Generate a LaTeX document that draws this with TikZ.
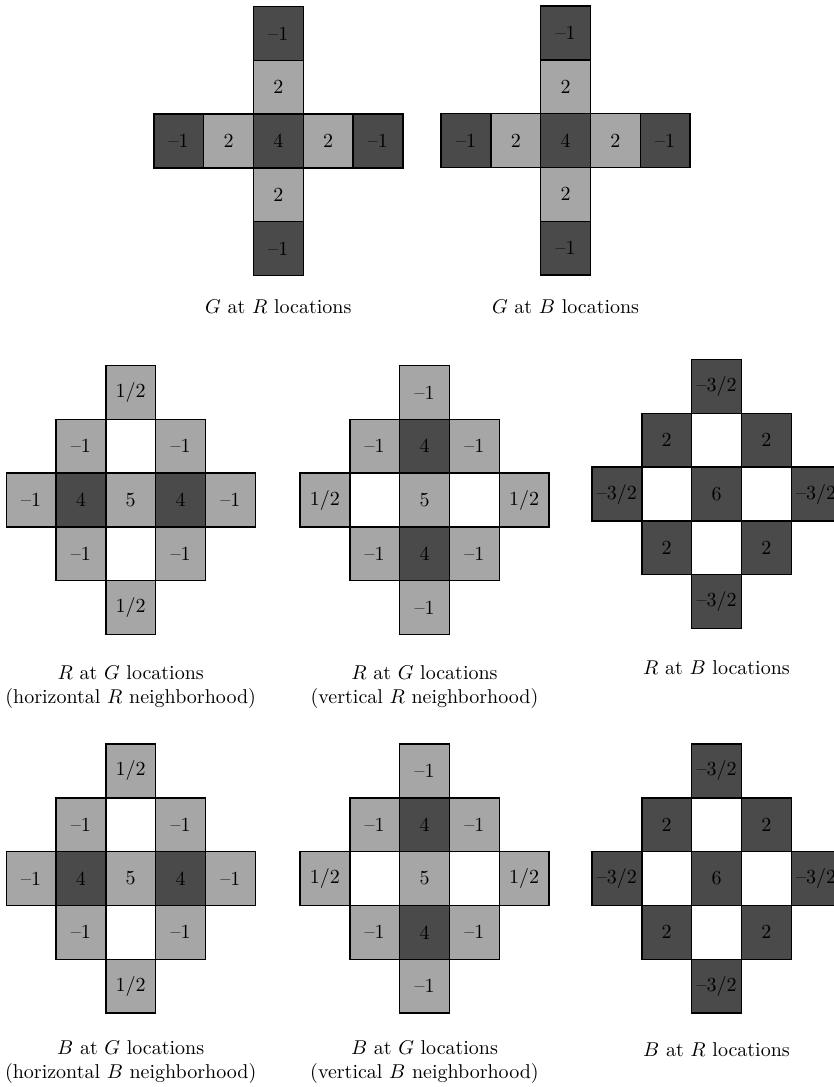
\documentclass[tikz,border=0pt]{standalone}
\usepackage{tikz}
\usetikzlibrary{positioning}
\definecolor{maindark}{RGB}{74,74,74}
\definecolor{mainlight}{RGB}{166,166,166}

\begin{document}
\begin{tikzpicture}[x=0.5pt,y=-0.5pt,
  cell/.style={rectangle,draw,line width=0.7pt,inner sep=0pt,outer sep=0pt,minimum width=24.9pt,minimum height=26.9pt},
  dk/.style={cell,fill=maindark},
  lt/.style={cell,fill=mainlight},
  wt/.style={cell,fill=white},
  captext/.style={align=center}]
\useasboundingbox (0,0) rectangle (834,1087);

% G at R
\node[dk] (grc) at (278.3,141) {4};
\node[lt,above=0pt of grc] (grn) {2};
\node[dk,above=0pt of grn] (grnn) {--1};
\node[lt,below=0pt of grc] (grs) {2};
\node[dk,below=0pt of grs] (grss) {--1};
\node[lt,left=0pt of grc] (grw) {2};
\node[dk,left=0pt of grw] (grww) {--1};
\node[lt,right=0pt of grc] (gre) {2};
\node[dk,right=0pt of gre] (gree) {--1};
\node[captext] (grcap) at (278.3,307) {$G$ at $R$ locations};

% G at B
\node[dk] (gbc) at (565.6,140.5) {4};
\node[lt,above=0pt of gbc] (gbn) {2};
\node[dk,above=0pt of gbn] (gbnn) {--1};
\node[lt,below=0pt of gbc] (gbs) {2};
\node[dk,below=0pt of gbs] (gbss) {--1};
\node[lt,left=0pt of gbc] (gbw) {2};
\node[dk,left=0pt of gbw] (gbww) {--1};
\node[lt,right=0pt of gbc] (gbe) {2};
\node[dk,right=0pt of gbe] (gbee) {--1};
\node[captext] (gbcap) at (565.6,307) {$G$ at $B$ locations};

% R at G, horizontal
\node[lt] (rhc) at (130.7,500) {5};
\node[wt,above=0pt of rhc] (rhn) {};
\node[lt,above=0pt of rhn] (rhnn) {1/2};
\node[wt,below=0pt of rhc] (rhs) {};
\node[lt,below=0pt of rhs] (rhss) {1/2};
\node[dk,left=0pt of rhc] (rhw) {4};
\node[lt,left=0pt of rhw] (rhww) {--1};
\node[dk,right=0pt of rhc] (rhe) {4};
\node[lt,right=0pt of rhe] (rhee) {--1};
\node[lt,above left=0pt of rhc] (rhnw) {--1};
\node[lt,above right=0pt of rhc] (rhne) {--1};
\node[lt,below left=0pt of rhc] (rhsw) {--1};
\node[lt,below right=0pt of rhc] (rhse) {--1};
\node[captext] (rhcap) at (130.7,687) {$R$ at $G$ locations\\(horizontal $R$ neighborhood)};

% R at G, vertical
\node[lt] (rvc) at (424.5,500) {5};
\node[dk,above=0pt of rvc] (rvn) {4};
\node[lt,above=0pt of rvn] (rvnn) {--1};
\node[dk,below=0pt of rvc] (rvs) {4};
\node[lt,below=0pt of rvs] (rvss) {--1};
\node[wt,left=0pt of rvc] (rvw) {};
\node[lt,left=0pt of rvw] (rvww) {1/2};
\node[wt,right=0pt of rvc] (rve) {};
\node[lt,right=0pt of rve] (rvee) {1/2};
\node[lt,above left=0pt of rvc] (rvnw) {--1};
\node[lt,above right=0pt of rvc] (rvne) {--1};
\node[lt,below left=0pt of rvc] (rvsw) {--1};
\node[lt,below right=0pt of rvc] (rvse) {--1};
\node[captext] (rvcap) at (424.5,687) {$R$ at $G$ locations\\(vertical $R$ neighborhood)};

% R at B
\node[dk] (rbc) at (716.5,494) {6};
\node[wt,above=0pt of rbc] (rbn) {};
\node[dk,above=0pt of rbn] (rbnn) {--3/2};
\node[wt,below=0pt of rbc] (rbs) {};
\node[dk,below=0pt of rbs] (rbss) {--3/2};
\node[wt,left=0pt of rbc] (rbw) {};
\node[dk,left=0pt of rbw] (rbww) {--3/2};
\node[wt,right=0pt of rbc] (rbe) {};
\node[dk,right=0pt of rbe] (rbee) {--3/2};
\node[dk,above left=0pt of rbc] (rbnw) {2};
\node[dk,above right=0pt of rbc] (rbne) {2};
\node[dk,below left=0pt of rbc] (rbsw) {2};
\node[dk,below right=0pt of rbc] (rbse) {2};
\node[captext] (rbcap) at (716.5,668) {$R$ at $B$ locations};

% B at G, horizontal
\node[lt] (bhc) at (130.7,878.5) {5};
\node[wt,above=0pt of bhc] (bhn) {};
\node[lt,above=0pt of bhn] (bhnn) {1/2};
\node[wt,below=0pt of bhc] (bhs) {};
\node[lt,below=0pt of bhs] (bhss) {1/2};
\node[dk,left=0pt of bhc] (bhw) {4};
\node[lt,left=0pt of bhw] (bhww) {--1};
\node[dk,right=0pt of bhc] (bhe) {4};
\node[lt,right=0pt of bhe] (bhee) {--1};
\node[lt,above left=0pt of bhc] (bhnw) {--1};
\node[lt,above right=0pt of bhc] (bhne) {--1};
\node[lt,below left=0pt of bhc] (bhsw) {--1};
\node[lt,below right=0pt of bhc] (bhse) {--1};
\node[captext] (bhcap) at (130.7,1062) {$B$ at $G$ locations\\(horizontal $B$ neighborhood)};

% B at G, vertical
\node[lt] (bvc) at (424.5,878.5) {5};
\node[dk,above=0pt of bvc] (bvn) {4};
\node[lt,above=0pt of bvn] (bvnn) {--1};
\node[dk,below=0pt of bvc] (bvs) {4};
\node[lt,below=0pt of bvs] (bvss) {--1};
\node[wt,left=0pt of bvc] (bvw) {};
\node[lt,left=0pt of bvw] (bvww) {1/2};
\node[wt,right=0pt of bvc] (bve) {};
\node[lt,right=0pt of bve] (bvee) {1/2};
\node[lt,above left=0pt of bvc] (bvnw) {--1};
\node[lt,above right=0pt of bvc] (bvne) {--1};
\node[lt,below left=0pt of bvc] (bvsw) {--1};
\node[lt,below right=0pt of bvc] (bvse) {--1};
\node[captext] (bvcap) at (424.5,1062) {$B$ at $G$ locations\\(vertical $B$ neighborhood)};

% B at R
\node[dk] (brc) at (716.5,878.5) {6};
\node[wt,above=0pt of brc] (brn) {};
\node[dk,above=0pt of brn] (brnn) {--3/2};
\node[wt,below=0pt of brc] (brs) {};
\node[dk,below=0pt of brs] (brss) {--3/2};
\node[wt,left=0pt of brc] (brw) {};
\node[dk,left=0pt of brw] (brww) {--3/2};
\node[wt,right=0pt of brc] (bre) {};
\node[dk,right=0pt of bre] (bree) {--3/2};
\node[dk,above left=0pt of brc] (brnw) {2};
\node[dk,above right=0pt of brc] (brne) {2};
\node[dk,below left=0pt of brc] (brsw) {2};
\node[dk,below right=0pt of brc] (brse) {2};
\node[captext] (brcap) at (716.5,1050) {$B$ at $R$ locations};
\end{tikzpicture}
\end{document}
